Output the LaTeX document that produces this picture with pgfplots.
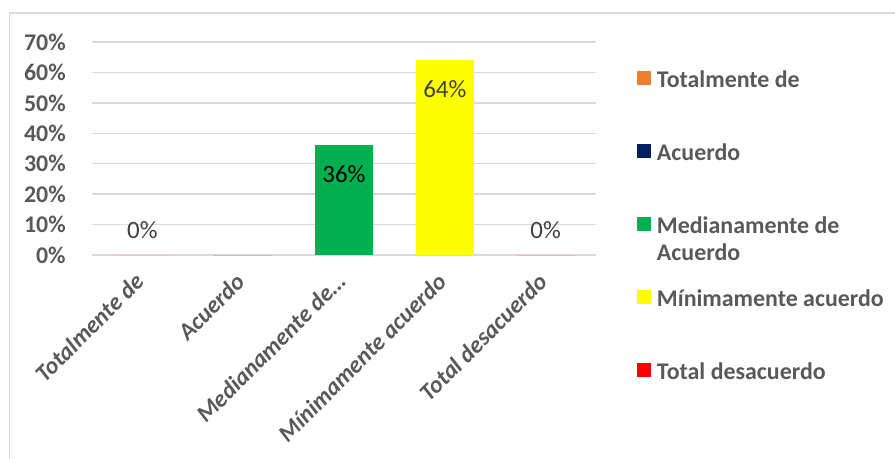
\documentclass[border=0pt]{standalone}
\usepackage{pgfplots}
\pgfplotsset{compat=1.18}
\usepackage{fontspec}
\setmainfont{Carlito}
\definecolor{orangeA}{HTML}{ED7D31}
\definecolor{navyA}{HTML}{002060}
\definecolor{greenA}{HTML}{00B050}
\definecolor{yellowA}{HTML}{FFFF00}
\definecolor{redA}{HTML}{FF0000}
\definecolor{gridA}{HTML}{D9D9D9}
\definecolor{textA}{HTML}{595959}
\definecolor{labA}{HTML}{404040}
\begin{document}
\begin{tikzpicture}[x=1bp,y=1bp]
\begin{axis}[
  at={(0,0)}, anchor=south west,
  scale only axis, width=504bp, height=213bp,
  ybar, bar width=58bp, bar shift=0pt,
  xmin=-0.5, xmax=4.5, ymin=0, ymax=70,
  enlargelimits=false,
  xtick={0,1,2,3,4},
  xticklabels={Totalmente de, Acuerdo, Medianamente de\ldots, Mínimamente acuerdo, Total desacuerdo},
  ytick={0,10,...,70},
  yticklabel={\pgfmathprintnumber{\tick}\%},
  /pgf/number format/assume math mode=true,
  ymajorgrids, grid style={gridA, line width=1.3bp},
  axis lines=left, axis line style={draw=none},
  tick style={draw=none},
  yticklabel style={font=\bfseries\fontsize{24}{28}\selectfont, text=textA, anchor=east, inner sep=0pt, xshift=-24bp},
  xticklabel style={font=\bfseries\itshape\fontsize{24}{28}\selectfont, text=textA, inner sep=0pt, xshift=-9bp, yshift=-14bp, rotate=45, anchor=north east},
  nodes near coords={\pgfmathprintnumber{\pgfplotspointmeta}\%},
  nodes near coords style={font=\fontsize{25}{29}\selectfont, text=labA, anchor=center},
  legend image code/.code={\fill[#1,draw=none] (0bp,-3bp) rectangle (14bp,11bp);},
  legend cell align=left,
  legend style={at={(1.0813,0.866)}, anchor=north west, draw=none, fill=none,
    inner sep=0pt, outer sep=0pt, row sep=51bp, column sep=6bp,
    font=\bfseries\fontsize{24}{27}\selectfont, text=textA,
    nodes={inner sep=0pt, text height=17bp, text depth=5bp}},
]
\addplot[fill=orangeA, draw=none, nodes near coords style={yshift=25bp}] coordinates {(0,0)};
\addplot[fill=navyA, draw=none, nodes near coords={}] coordinates {(1,0)};
\addplot[fill=greenA, draw=none, nodes near coords style={yshift=-29bp, text=black}] coordinates {(2,36)};
\addplot[fill=yellowA, draw=none, nodes near coords style={yshift=-29bp}] coordinates {(3,64)};
\addplot[fill=redA, draw=none, nodes near coords style={yshift=25bp}] coordinates {(4,0)};
\legend{Totalmente de, Acuerdo, {\raisebox{0pt}[\height][0pt]{\begin{tabular}[t]{@{}l@{}}Medianamente de\\Acuerdo\end{tabular}}}, Mínimamente acuerdo, Total desacuerdo}
\end{axis}
\draw[gridA, line width=1.3bp] (-82.5bp,-210bp) -- (-82.5bp,242bp) -- (810bp,242bp);
\pgfresetboundingbox
\useasboundingbox (-92bp,-204bp) rectangle (803bp,255bp);
\end{tikzpicture}
\end{document}
